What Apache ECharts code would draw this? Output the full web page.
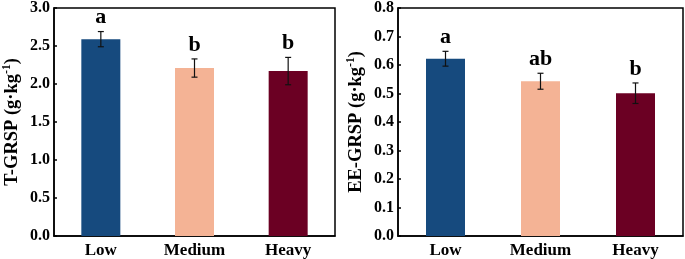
<!DOCTYPE html>
<html>
<head>
<meta charset="utf-8">
<script src="https://cdn.jsdelivr.net/npm/echarts@6/dist/echarts.min.js"></script>
<style>
  html, body { margin: 0; padding: 0; background: #fff; }
  #chart { width: 685px; height: 259px; }
</style>
</head>
<body>
<div id="chart"></div>
<script>
// 数据
const categories = ['Low', 'Medium', 'Heavy']
const barColors = ['#164a7e', '#f4b395', '#6b0023']

const tGrsp = [2.59, 2.21, 2.17]
const tGrspErr = [0.10, 0.12, 0.18]
const tGrspLetters = ['a', 'b', 'b']

const eeGrsp = [0.622, 0.543, 0.501]
const eeGrspErr = [0.026, 0.028, 0.036]
const eeGrspLetters = ['a', 'ab', 'b']

const font = 'Liberation Serif'

const chart = echarts.init(document.getElementById('chart'))

const grids = [
  { left: 50, top: 6, width: 285, height: 231 },
  { left: 398, top: 6, width: 285, height: 231 }
].map(g => ({ ...g, show: true, borderColor: '#000', borderWidth: 1.5, backgroundColor: 'transparent' }))

const xAxes = grids.map((_, i) => ({
  type: 'category',
  data: categories,
  gridIndex: i,
  axisLine: { lineStyle: { color: '#000', width: 1.5 } },
  axisTick: { inside: true, alignWithLabel: true, length: 3, lineStyle: { color: '#000', width: 1.5 } },
  axisLabel: { color: '#000', fontFamily: font, fontWeight: 'bold', fontSize: 17, margin: 6 },
  splitLine: { show: false }
}))

const yName = (label) => ({
  name: '{t|' + label + ' (g·kg}{s|-1}{t|)}',
  nameLocation: 'middle',
  nameRotate: 90,
  nameTextStyle: {
    rich: {
      t: { fontFamily: font, fontWeight: 'bold', fontSize: 18.5, color: '#000', lineHeight: 21, verticalAlign: 'bottom' },
      s: { fontFamily: font, fontWeight: 'bold', fontSize: 11.5, color: '#000', lineHeight: 21, verticalAlign: 'top', padding: [0, 0, 8, 0] }
    }
  }
})

const yBase = {
  type: 'value',
  axisLine: { show: true, lineStyle: { color: '#000', width: 1.5 } },
  axisTick: { show: true, inside: true, length: 3, lineStyle: { color: '#000', width: 1.5 } },
  axisLabel: { color: '#000', fontFamily: font, fontWeight: 'bold', fontSize: 16, margin: 4 },
  splitLine: { show: false }
}

const yAxes = [
  { ...yBase, ...yName('T-GRSP'), gridIndex: 0, min: 0, max: 3, interval: 0.5, nameGap: 32,
    axisLabel: { ...yBase.axisLabel, formatter: v => v.toFixed(1) } },
  { ...yBase, ...yName('EE-GRSP'), gridIndex: 1, min: 0, max: 0.8, interval: 0.1, nameGap: 32,
    axisLabel: { ...yBase.axisLabel, formatter: v => v.toFixed(1) } }
]

// 误差棒 + 显著性字母
const errorSeries = (idx, vals, errs, letters) => ({
  type: 'custom',
  xAxisIndex: idx,
  yAxisIndex: idx,
  z: 10,
  data: vals.map((v, i) => [i, v - errs[i], v + errs[i]]),
  renderItem: (params, api) => {
    const x = api.value(0)
    const lo = api.coord([x, api.value(1)])
    const hi = api.coord([x, api.value(2)])
    const cap = 3
    const style = { stroke: '#111', lineWidth: 1.2 }
    return {
      type: 'group',
      children: [
        { type: 'line', shape: { x1: lo[0], y1: lo[1], x2: hi[0], y2: hi[1] }, style },
        { type: 'line', shape: { x1: lo[0] - cap, y1: lo[1], x2: lo[0] + cap, y2: lo[1] }, style },
        { type: 'line', shape: { x1: hi[0] - cap, y1: hi[1], x2: hi[0] + cap, y2: hi[1] }, style },
        {
          type: 'text',
          x: hi[0],
          y: hi[1] - 3,
          style: {
            text: letters[params.dataIndex],
            fontFamily: font,
            fontWeight: 'bold',
            fontSize: 22,
            fill: '#000',
            align: 'center',
            verticalAlign: 'bottom'
          }
        }
      ]
    }
  }
})

const barSeries = (idx, vals) => ({
  type: 'bar',
  xAxisIndex: idx,
  yAxisIndex: idx,
  barWidth: 39,
  data: vals.map((v, i) => ({ value: v, itemStyle: { color: barColors[i] } }))
})

chart.setOption({
  animation: false,
  grid: grids,
  xAxis: xAxes,
  yAxis: yAxes,
  series: [
    barSeries(0, tGrsp),
    errorSeries(0, tGrsp, tGrspErr, tGrspLetters),
    barSeries(1, eeGrsp),
    errorSeries(1, eeGrsp, eeGrspErr, eeGrspLetters)
  ]
})
</script>
</body>
</html>
